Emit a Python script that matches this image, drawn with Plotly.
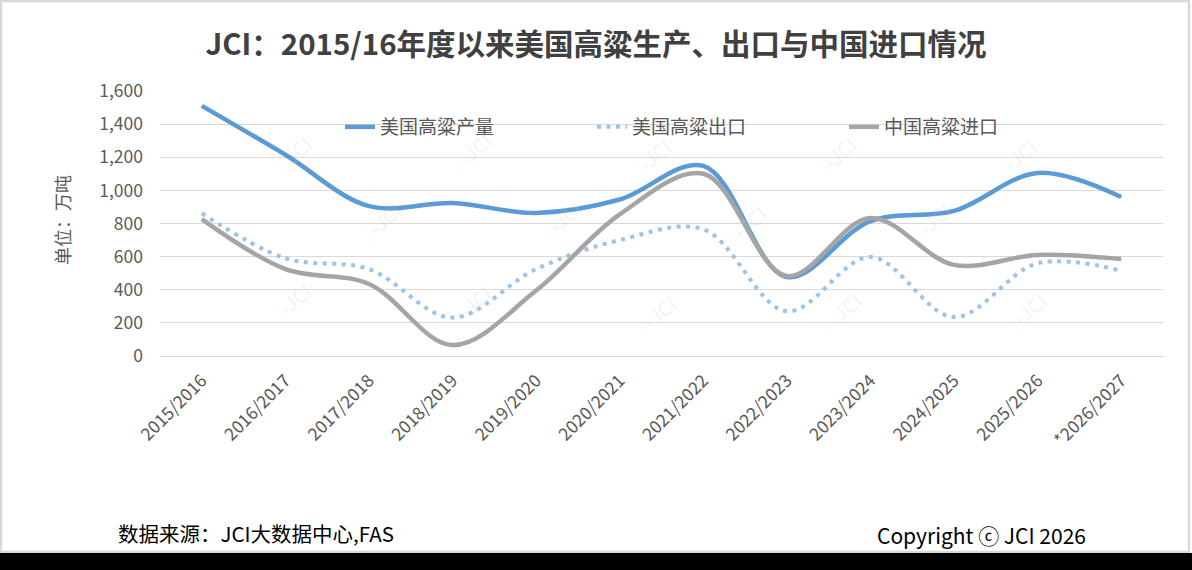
import plotly.graph_objects as go

categories = ["2015/2016", "2016/2017", "2017/2018", "2018/2019", "2019/2020", "2020/2021",
              "2021/2022", "2022/2023", "2023/2024", "2024/2025", "2025/2026", "*2026/2027"]
us_production = [1510, 1215, 905, 924, 864, 945, 1148, 477, 815, 876, 1105, 960]
us_export = [862, 590, 525, 232, 525, 700, 765, 270, 598, 235, 560, 515]
cn_import = [826, 525, 435, 66, 395, 855, 1100, 483, 833, 550, 610, 585]
y_ticks = [0, 200, 400, 600, 800, 1000, 1200, 1400, 1600]

W, H = 1192, 570
ML, MR, MT, MB = 160, 29, 91, 214
PW, PH = W - ML - MR, H - MT - MB


def px(x):
    return (x - ML) / PW


def py(y):
    return (H - MB - y) / PH


FONT = "Noto Sans CJK SC"
TXT = "#595959"

fig = go.Figure()
fig.add_trace(go.Scatter(x=categories, y=us_production, name="美国高粱产量", mode="lines",
                         line=dict(color="#5B9BD5", width=4.5, shape="spline", smoothing=1.0)))
fig.add_trace(go.Scatter(x=categories, y=us_export, name="美国高粱出口", mode="lines",
                         line=dict(color="#9DC3E6", width=4, shape="spline", smoothing=1.0,
                                   dash="4px,5.5px")))
fig.add_trace(go.Scatter(x=categories, y=cn_import, name="中国高粱进口", mode="lines",
                         line=dict(color="#A5A5A5", width=4.5, shape="spline", smoothing=1.0)))

annotations = []
# faint watermarks
wm = [(290, 155), (470, 152), (650, 158), (835, 156), (1015, 158),
      (380, 222), (560, 220), (745, 225), (930, 222),
      (290, 302), (470, 305), (655, 315), (840, 312), (1025, 312)]
for (wx, wy) in wm:
    annotations.append(dict(x=px(wx), y=py(wy), xref="paper", yref="paper", showarrow=False,
                            xanchor="center", yanchor="middle",
                            text="<span style='color:rgba(240,120,120,0.16)'>J</span>-JCI",
                            textangle=-40, font=dict(family=FONT, size=20, color="rgba(200,200,200,0.22)")))

annotations += [
    dict(x=px(62), y=py(220), xref="paper", yref="paper", showarrow=False, text="单位：万吨",
         xanchor="center", yanchor="middle",
         textangle=-90, font=dict(family=FONT, size=18, color=TXT)),
    dict(x=px(116), y=py(533), xref="paper", yref="paper", showarrow=False, xanchor="left",
         yanchor="middle",
         text="数据来源：JCI大数据中心,FAS", font=dict(family=FONT, size=20.5, color="#000000")),
    dict(x=px(1088), y=py(535), xref="paper", yref="paper", showarrow=False, xanchor="right",
         yanchor="middle",
         text="Copyright ⓒ JCI 2026", font=dict(family=FONT, size=21, color="#000000")),
]

shapes = [
    dict(type="rect", xref="paper", yref="paper", x0=px(1), x1=px(1189), y0=py(1), y1=py(552),
         line=dict(color="#D9D9D9", width=2.5), fillcolor="rgba(0,0,0,0)", layer="below"),
    dict(type="rect", xref="paper", yref="paper", x0=px(-5), x1=px(W + 5), y0=py(553), y1=py(H + 5),
         line=dict(width=0), fillcolor="#000000", layer="above"),
]

fig.update_layout(
    width=W, height=H,
    margin=dict(l=ML, r=MR, t=MT, b=MB),
    paper_bgcolor="white", plot_bgcolor="white",
    title=dict(text="<b>JCI：2015/16年度以来美国高粱生产、出口与中国进口情况</b>",
               x=0.5, xanchor="center", y=1 - 45 / H, yanchor="middle",
               font=dict(family=FONT, size=29.5, color="#404040")),
    legend=dict(orientation="h", x=px(340), y=py(127), xanchor="left", yanchor="middle",
                bgcolor="rgba(0,0,0,0)", font=dict(family=FONT, size=19, color=TXT),
                entrywidth=207, entrywidthmode="pixels"),
    xaxis=dict(type="category", tickangle=-45, showgrid=False, showline=False, ticks="",
               ticklabelstandoff=10,
               tickfont=dict(family=FONT, size=17.5, color=TXT), range=[-0.5, 11.5]),
    yaxis=dict(range=[0, 1600], tickvals=y_ticks, tickformat=",", showgrid=True,
               gridcolor="#D9D9D9", gridwidth=1.3, zeroline=True, zerolinecolor="#D9D9D9",
               zerolinewidth=1.3, showline=False, ticks="", ticklabelstandoff=16,
               tickfont=dict(family=FONT, size=17.5, color=TXT)),
    annotations=annotations,
    shapes=shapes,
    showlegend=True,
)

fig.write_html("out.html", config={"displayModeBar": False},
               post_script="document.body.style.margin='0';document.body.style.padding='0';")
